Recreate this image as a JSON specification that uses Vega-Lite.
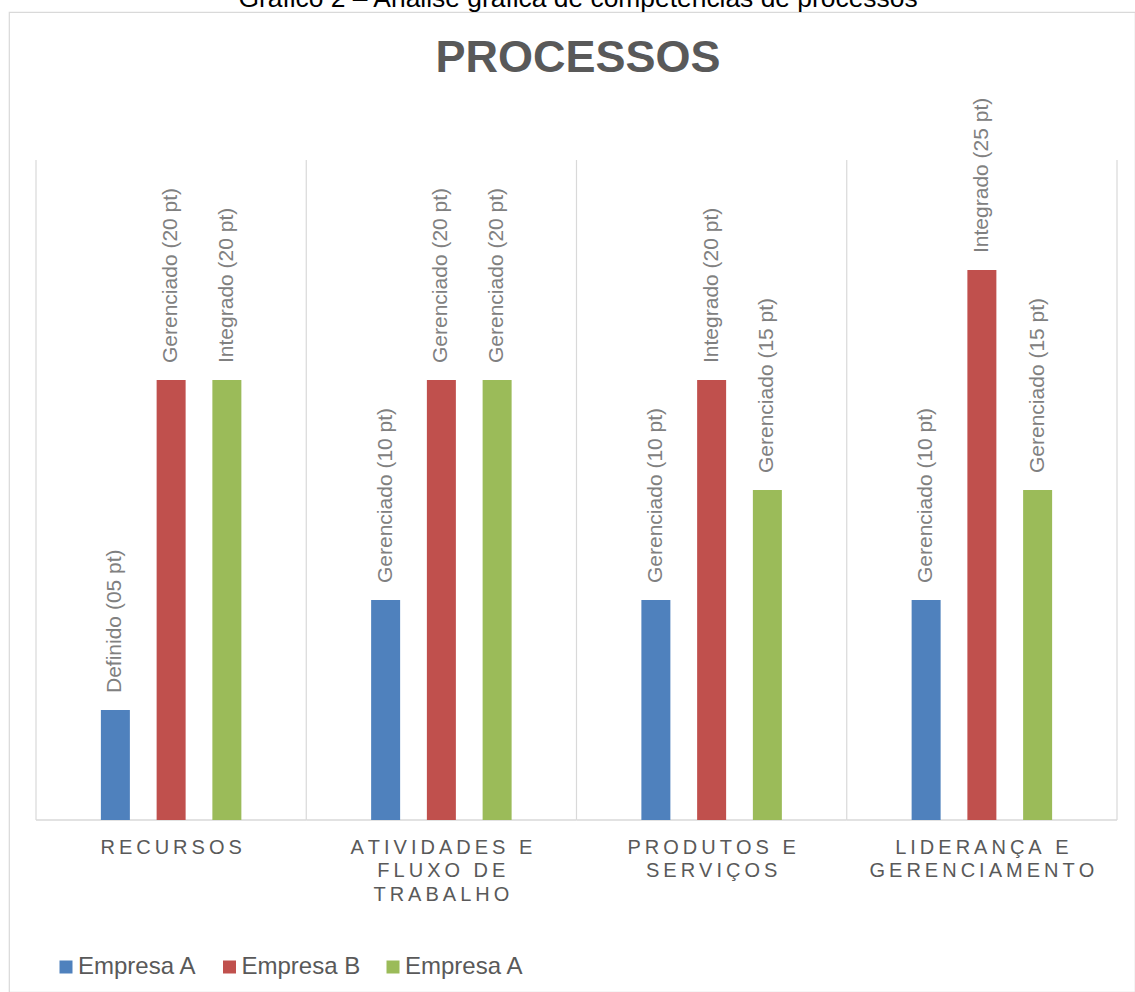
{
  "$schema": "https://vega.github.io/schema/vega-lite/v6.json",
  "width": 1126,
  "height": 980,
  "autosize": {"type": "none"},
  "padding": {"left": 9, "top": 12, "right": 0, "bottom": 0},
  "background": "white",
  "config": {
    "font": "Liberation Sans",
    "view": {"stroke": "#d9d9d9", "strokeWidth": 1.2}
  },
  "title": {
    "text": "Gráfico 2 – Análise gráfica de competências de processos",
    "subtitle": "PROCESSOS",
    "orient": "top",
    "anchor": "middle",
    "frame": "group",
    "offset": -69,
    "dx": 6,
    "font": "Liberation Sans",
    "fontSize": 26.4,
    "fontWeight": "normal",
    "color": "#000000",
    "subtitleFont": "Liberation Sans",
    "subtitleFontSize": 45,
    "subtitleFontWeight": "bold",
    "subtitleColor": "#595959",
    "subtitlePadding": 24
  },
  "data": {
    "values": [
      {"area": "Recursos", "serie": "Empresa A", "pontos": 5, "rotulo": "Definido (05 pt)"},
      {"area": "Recursos", "serie": "Empresa B", "pontos": 20, "rotulo": "Gerenciado (20 pt)"},
      {"area": "Recursos", "serie": "Empresa A (2)", "pontos": 20, "rotulo": "Integrado (20 pt)"},
      {"area": "Atividades e fluxo de trabalho", "serie": "Empresa A", "pontos": 10, "rotulo": "Gerenciado (10 pt)"},
      {"area": "Atividades e fluxo de trabalho", "serie": "Empresa B", "pontos": 20, "rotulo": "Gerenciado (20 pt)"},
      {"area": "Atividades e fluxo de trabalho", "serie": "Empresa A (2)", "pontos": 20, "rotulo": "Gerenciado (20 pt)"},
      {"area": "Produtos e serviços", "serie": "Empresa A", "pontos": 10, "rotulo": "Gerenciado (10 pt)"},
      {"area": "Produtos e serviços", "serie": "Empresa B", "pontos": 20, "rotulo": "Integrado  (20 pt)"},
      {"area": "Produtos e serviços", "serie": "Empresa A (2)", "pontos": 15, "rotulo": "Gerenciado (15 pt)"},
      {"area": "Liderança e gerenciamento", "serie": "Empresa A", "pontos": 10, "rotulo": "Gerenciado (10 pt)"},
      {"area": "Liderança e gerenciamento", "serie": "Empresa B", "pontos": 25, "rotulo": "Integrado (25 pt)"},
      {"area": "Liderança e gerenciamento", "serie": "Empresa A (2)", "pontos": 15, "rotulo": "Gerenciado (15 pt)"}
    ]
  },
  "layer": [
    {
      "transform": [{"filter": "datum.serie == 'Empresa A'"}],
      "mark": {"type": "rule", "color": "#d9d9d9", "strokeWidth": 1.2},
      "encoding": {
        "x": {"field": "area", "type": "nominal", "bandPosition": 0, "axis": null},
        "y": {"datum": 0, "type": "quantitative", "axis": null},
        "y2": {"datum": 30}
      }
    },
    {
      "transform": [{"filter": "datum.serie == 'Empresa A' && datum.area == 'Liderança e gerenciamento'"}],
      "mark": {"type": "rule", "color": "#d9d9d9", "strokeWidth": 1.2},
      "encoding": {
        "x": {"field": "area", "type": "nominal", "bandPosition": 1, "axis": null},
        "y": {"datum": 0, "type": "quantitative", "axis": null},
        "y2": {"datum": 30}
      }
    },
    {
      "transform": [{"filter": "datum.serie == 'Empresa A'"}],
      "mark": {"type": "rect", "fill": "transparent", "stroke": "#d9d9d9", "strokeWidth": 1.3},
      "encoding": {
        "x": {"field": "area", "type": "nominal", "axis": null},
        "y": {"datum": 0, "type": "quantitative", "axis": null},
        "y2": {"datum": 0}
      }
    },
    {
      "mark": {"type": "bar", "width": 29},
      "encoding": {
        "x": {
          "field": "area",
          "type": "nominal",
          "sort": null,
          "scale": {
            "domain": ["Recursos", "Atividades e fluxo de trabalho", "Produtos e serviços", "Liderança e gerenciamento"],
            "range": [27, 1108],
            "paddingInner": 0,
            "paddingOuter": 0
          },
          "axis": null
        },
        "xOffset": {
          "field": "serie",
          "type": "nominal",
          "sort": null,
          "scale": {"domain": ["Empresa A", "Empresa B", "Empresa A (2)"], "paddingInner": 0, "paddingOuter": 0.924}
        },
        "y": {
          "field": "pontos",
          "type": "quantitative",
          "scale": {"domain": [0, 30], "range": [808, 148], "nice": false, "zero": true},
          "axis": null
        },
        "color": {
          "field": "serie",
          "type": "nominal",
          "sort": null,
          "scale": {
            "domain": ["Empresa A", "Empresa B", "Empresa A (2)"],
            "range": ["#4f81bd", "#c0504d", "#9bbb59"]
          },
          "legend": {
            "title": null,
            "orient": "none",
            "direction": "horizontal",
            "columns": 3,
            "legendX": 45,
            "legendY": 943,
            "padding": 0,
            "symbolType": "square",
            "symbolSize": 169,
            "symbolStrokeWidth": 0,
            "labelFont": "Liberation Sans",
            "labelFontSize": 24,
            "labelColor": "#595959",
            "labelOffset": 0,
            "labelLimit": 300,
            "columnPadding": 20.5,
            "labelExpr": "replace(datum.label, ' (2)', '')"
          }
        }
      }
    },
    {
      "mark": {
        "type": "text",
        "angle": 270,
        "align": "left",
        "baseline": "middle",
        "dx": 17,
        "font": "Liberation Sans",
        "fontSize": 21,
        "color": "#808080"
      },
      "encoding": {
        "x": {"field": "area", "type": "nominal", "sort": null, "axis": null},
        "xOffset": {"field": "serie", "type": "nominal", "sort": null},
        "y": {"field": "pontos", "type": "quantitative", "axis": null},
        "text": {"field": "rotulo"}
      }
    },
    {
      "transform": [
        {"filter": "datum.serie == 'Empresa A'"},
        {"calculate": "replace(replace(upper(datum.area), regexp(' (E|DE) ', 'g'), ' $1\\n'), regexp('([^\\n])(?=[^\\n])', 'g'), '$1\u2009')", "as": "rotulo_area"}
      ],
      "mark": {
        "type": "text",
        "align": "center",
        "baseline": "top",
        "lineBreak": "\n",
        "lineHeight": 23.5,
        "dy": 17.5,
        "font": "Liberation Sans",
        "fontSize": 20,
        "color": "#595959"
      },
      "encoding": {
        "x": {"field": "area", "type": "nominal", "axis": null},
        "y": {"datum": 0, "type": "quantitative", "axis": null},
        "text": {"field": "rotulo_area"}
      }
    }
  ]
}
